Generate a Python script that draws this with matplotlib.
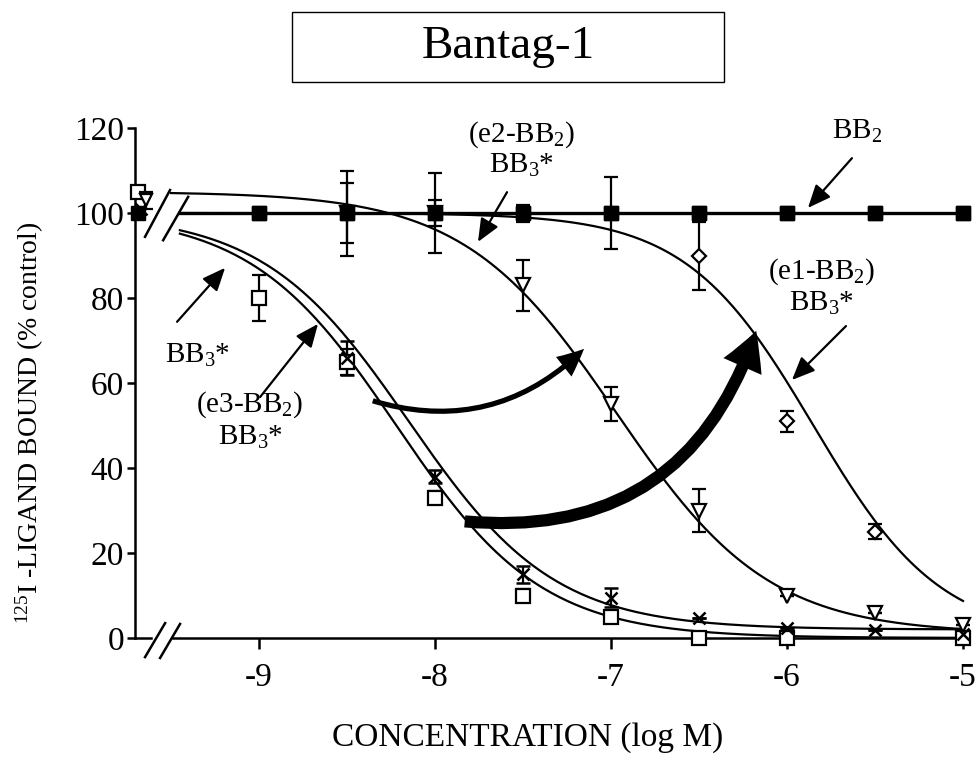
import numpy as np
import matplotlib.pyplot as plt
from matplotlib.patches import FancyArrowPatch, Rectangle

plt.rcParams['font.family'] = ['Liberation Serif', 'DejaVu Serif']
plt.rcParams['mathtext.fontset'] = 'custom'
plt.rcParams['mathtext.rm'] = 'Liberation Serif'
plt.rcParams['mathtext.it'] = 'Liberation Serif:italic'

#------------------------------------------------------------------------------#
# Data                                                    #
#------------------------------------------------------------------------------#
conc = [-9, -8.5, -8, -7.5, -7, -6.5, -6, -5.5, -5]

# BB2 (filled squares)
bb2_y   = [100, 100, 100, 100, 100, 100, 100, 100, 100]
bb2_err = [0, 10, 9.5, 2, 8.5, 0, 0, 0, 0]

# BB3* (open squares)
bb3_x   = [-9, -8.5, -8, -7.5, -7, -6.5, -6, -5]
bb3_y   = [80, 65, 33, 10, 5, 0, 0, 0]
bb3_err = [5.5, 3, 1.5, 1.5, 1, 0, 0, 0]

# (e3-BB2) BB3* (crosses)
e3_x   = [-8.5, -8, -7.5, -7, -6.5, -6, -5.5, -5]
e3_y   = [66, 38, 15, 9.5, 4.7, 2.4, 2, 1]
e3_err = [4, 1.5, 2, 2.3, 0, 0, 0, 0]

# (e2-BB2) BB3* (open down triangles)
e2_x   = [-8.5, -8, -7.5, -7, -6.5, -6, -5.5, -5]
e2_y   = [100, 100, 83, 55, 30, 10, 6, 3]
e2_err = [7, 3, 6, 4, 5, 0, 0, 0]

# (e1-BB2) BB3* (open diamonds)
e1_x   = [-6.5, -6, -5.5]
e1_y   = [90, 51, 25]
e1_err = [8, 2.5, 1.8]

# control points left of the axis break
ctrl_x = [-9.69, -9.69, -9.64, -9.67]
ctrl_y = [105, 100, 103, 101]

# fitted curves: top, bottom, logIC50, hill
fit_top    = [100, 100, 105, 100]
fit_bottom = [0, 2, 1, 0]
fit_logec  = [-8.22, -8.15, -6.97, -5.85]
fit_hill   = [1.05, 1.05, 1.0, 1.2]
fit_start  = [-9.45, -9.45, -9.5, -9.45]


def sigmoid(x, top, bottom, logec, hill):
    return bottom + (top - bottom) / (1 + 10 ** (hill * (x - logec)))


def nonclip(container):
    for art in container.get_children():
        art.set_clip_on(False)


#------------------------------------------------------------------------------#
# Figure                                                                       #
#------------------------------------------------------------------------------#
fig = plt.figure(figsize=(9.79, 7.76), dpi=100)
ax = fig.add_axes([135/979, 1 - 638/776, (963 - 135)/979, (638 - 128)/776])
ax.set_xlim(-9.705, -5.0)
ax.set_ylim(0, 120)

lw = 1.6
# fitted curves
for top, bot, ec, h, x0 in zip(fit_top, fit_bottom, fit_logec, fit_hill, fit_start):
    xs = np.linspace(x0, -5, 300)
    ax.plot(xs, sigmoid(xs, top, bot, ec, h), color='black', lw=lw, clip_on=False, zorder=2)
ax.plot([-9.45, -5], [bb2_y[0], bb2_y[-1]], color='black', lw=2.4, clip_on=False, zorder=2)

eb_kw = dict(ecolor='black', elinewidth=lw, capsize=5, capthick=lw, ls='none', zorder=4)
nonclip(ax.errorbar(conc, bb2_y, yerr=bb2_err, fmt='s', ms=10, mfc='black', mec='black', **eb_kw))
nonclip(ax.errorbar(bb3_x, bb3_y, yerr=bb3_err, fmt='s', ms=10, mfc='white', mec='black', mew=1.6, **eb_kw))
nonclip(ax.errorbar(e3_x, e3_y, yerr=e3_err, fmt='x', ms=9, mec='black', mew=1.8, **eb_kw))
nonclip(ax.errorbar(e2_x, e2_y, yerr=e2_err, fmt='v', ms=10, mfc='white', mec='black', mew=1.6, **eb_kw))
nonclip(ax.errorbar(e1_x, e1_y, yerr=e1_err, fmt='D', ms=7, mfc='white', mec='black', mew=1.6, **eb_kw))
# filled squares drawn again on top so hidden points stay hidden
ax.plot(conc, bb2_y, 's', ms=10, mfc='black', mec='black', clip_on=False, zorder=5)

# control points
ax.plot(ctrl_x[0], ctrl_y[0], 's', ms=10, mfc='white', mec='black', mew=1.6, clip_on=False, zorder=4)
ax.plot(ctrl_x[1], ctrl_y[1], 's', ms=10, mfc='black', mec='black', clip_on=False, zorder=4)
nonclip(ax.errorbar(ctrl_x[2], ctrl_y[2], yerr=2, fmt='v', ms=9, mfc='white', mec='black', mew=1.6, **eb_kw))
ax.plot(ctrl_x[3], ctrl_y[3], 'x', ms=9, mec='black', mew=1.8, clip_on=False, zorder=4)

# axes styling with broken x axis
ax.spines['top'].set_visible(False)
ax.spines['right'].set_visible(False)
ax.spines['bottom'].set_visible(False)
ax.spines['left'].set_linewidth(1.8)
ax.plot([-9.705, -9.615], [0, 0], color='black', lw=1.8, clip_on=False)
ax.plot([-9.49, -5.0], [0, 0], color='black', lw=1.8, clip_on=False)
ax.plot([-9.648, -9.534], [-4.5, 3.5], color='black', lw=1.8, clip_on=False)
ax.plot([-9.5625, -9.449], [-4.7, 3.3], color='black', lw=1.8, clip_on=False)
# break marks across the curves
ax.plot([-9.648, -9.506], [94.4, 105.4], color='black', lw=1.8, clip_on=False)
ax.plot([-9.545, -9.403], [93.6, 103.8], color='black', lw=1.8, clip_on=False)

ax.set_xticks([-9, -8, -7, -6, -5])
ax.set_xticklabels(['-9', '-8', '-7', '-6', '-5'])
ax.set_yticks([0, 20, 40, 60, 80, 100, 120])
ax.tick_params(axis='both', direction='out', width=1.8, labelsize=24)
ax.tick_params(axis='x', length=8, pad=10)
ax.tick_params(axis='y', length=6, pad=2)

fig.text(30/979, 1 - 423/776, r'$^{125}$I -LIGAND BOUND (% control)', rotation=90,
         ha='center', va='center', fontsize=20)
fig.text(0.539, 0.050, 'CONCENTRATION (log M)', ha='center', va='center', fontsize=24)

# title box
fig.patches.append(Rectangle((292/979, 1 - 82/776), 432/979, 70/776, transform=fig.transFigure,
                             fill=False, edgecolor='black', lw=1.0))
fig.text(508/979, 1 - 47/776, 'Bantag-1', ha='center', va='center', fontsize=34)

#------------------------------------------------------------------------------#
# Annotations                                                                  #
#------------------------------------------------------------------------------#
fs = 21
arr = dict(arrowstyle='-|>,head_length=0.7,head_width=0.3', color='black', lw=1.6,
           mutation_scale=20, shrinkA=0, shrinkB=0)
ax.text(-5.602, 119.3, r'BB$_2$', ha='center', va='center', fontsize=fs)
ax.annotate('', xy=(-5.881, 101.2), xytext=(-5.631, 112.9), arrowprops=arr)

ax.text(-7.506, 118.4, r'(e2-BB$_2$)', ha='center', va='center', fontsize=fs)
ax.text(-7.506, 111.3, r'BB$_3$*', ha='center', va='center', fontsize=fs)
ax.annotate('', xy=(-7.756, 93.2), xytext=(-7.591, 104.9), arrowprops=arr)

ax.text(-5.801, 86.1, r'(e1-BB$_2$)', ha='center', va='center', fontsize=fs)
ax.text(-5.801, 78.8, r'BB$_3$*', ha='center', va='center', fontsize=fs)
ax.annotate('', xy=(-5.972, 60.7), xytext=(-5.665, 73.4), arrowprops=arr)

ax.text(-9.352, 66.6, r'BB$_3$*', ha='center', va='center', fontsize=fs)
ax.annotate('', xy=(-9.193, 87.1), xytext=(-9.466, 74.4), arrowprops=arr)

ax.text(-9.051, 54.8, r'(e3-BB$_2$)', ha='center', va='center', fontsize=fs)
ax.text(-9.051, 47.3, r'BB$_3$*', ha='center', va='center', fontsize=fs)
ax.annotate('', xy=(-8.665, 73.9), xytext=(-8.994, 56.7), arrowprops=arr)

# thick curved shift arrows
ax.add_patch(FancyArrowPatch((-8.369, 56), (-7.142, 68.5), connectionstyle='arc3,rad=0.3',
                             arrowstyle='simple,tail_width=0.25,head_width=1.2,head_length=1.3',
                             mutation_scale=15, color='black', lw=0, zorder=5))
ax.add_patch(FancyArrowPatch((-7.847, 27.5), (-6.170, 72.9), connectionstyle='arc3,rad=0.4',
                             arrowstyle='simple,tail_width=0.35,head_width=1.2,head_length=1.1',
                             mutation_scale=25, color='black', lw=0, zorder=5))

fig.savefig('out.png', dpi=100)
